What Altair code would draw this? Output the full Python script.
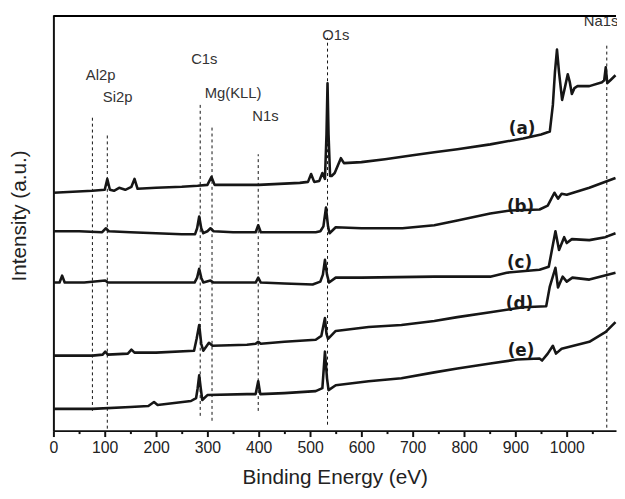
import altair as alt
import pandas as pd

# ---- spectra (binding energy in eV, intensity in a.u.) ----
energy_a = [0, 76, 100, 105, 110, 118, 128, 140, 152, 158, 164, 200, 250, 281, 300, 308, 314, 400, 480, 496,
            502, 508, 518, 524, 529, 532, 534, 536, 539, 542, 548, 560, 566, 600, 646, 700, 742, 787, 851, 915,
            950, 967, 973, 977, 981, 985, 991, 997, 1002, 1006, 1010, 1015, 1021, 1044, 1069, 1073, 1076, 1079,
            1085, 1095]
inten_a = [241, 243, 244, 255, 244, 243, 246, 244, 247, 255, 245, 246, 247, 248, 249, 257, 249, 249, 251, 252,
           260, 252, 253, 261, 255, 300, 352, 300, 258, 258, 261, 276, 271, 272, 275, 279, 282, 285, 290, 296,
           300, 303, 330, 363, 386, 363, 335, 349, 361, 353, 341, 347, 349, 349, 353, 355, 368, 352,
           355, 360]

energy_b = [0, 50, 95, 102, 108, 150, 200, 250, 276, 280, 284, 288, 292, 300, 306, 312, 350, 394, 399, 404,
            450, 511, 520, 526, 531, 535, 538, 550, 600, 680, 742, 787, 851, 890, 947, 963, 976, 983, 990, 1000,
            1044, 1095]
inten_b = [202, 202, 201, 205, 202, 201, 200, 199, 199, 205, 217, 205, 200, 202, 205, 202, 201, 201, 208, 201,
           201, 201, 202, 207, 226, 207, 200, 206, 205, 205, 208, 213, 220, 223, 224, 228, 241, 235, 240, 239,
           246, 256]

energy_c = [0, 12, 17, 22, 60, 101, 106, 200, 275, 280, 284, 288, 292, 306, 312, 358, 394, 399, 404, 450,
            505, 520, 525, 529, 533, 537, 550, 600, 742, 851, 883, 947, 965, 978, 985, 995, 1000, 1010, 1044,
            1075, 1095]
inten_c = [150, 150, 157, 150, 150, 152, 150, 150, 150, 155, 164, 155, 150, 152, 150, 150, 150, 155, 150, 149,
           148, 151, 158, 173, 158, 150, 155, 155, 156, 156, 160, 163, 166, 202, 183, 196, 190, 194, 193,
           196, 200]

energy_d = [0, 76, 96, 101, 106, 145, 152, 158, 200, 274, 279, 284, 288, 292, 303, 310, 377, 394, 399, 404,
            450, 511, 522, 529, 532, 535, 550, 614, 678, 742, 787, 851, 915, 960, 967, 978, 983, 992, 1000,
            1011, 1044, 1095]
inten_d = [76, 76, 77, 80, 77, 78, 82, 79, 79, 81, 93, 107, 88, 81, 89, 86, 87, 88, 90, 88,
           90, 92, 96, 114, 98, 93, 101, 105, 107, 111, 115, 120, 125, 126, 146, 165, 145, 156, 151,
           155, 153, 160]

energy_e = [0, 76, 150, 185, 196, 203, 268, 278, 281, 284, 287, 290, 300, 377, 394, 399, 403, 450, 511, 524,
            529, 533, 536, 550, 614, 678, 742, 787, 851, 903, 947, 952, 963, 973, 979, 990, 1044, 1076, 1095]
inten_e = [22, 22, 24, 25, 29, 26, 30, 33, 43, 56, 43, 31, 36, 37, 37, 50, 37, 38, 40, 43,
           80, 53, 41, 46, 50, 53, 59, 63, 68, 72, 73, 71, 78, 86, 78, 83, 90, 100, 110]

# ---- element markers ----
peak_names = ["Al2p", "Si2p", "C1s", "Mg(KLL)", "N1s", "O1s", "Na1s"]
peak_energy = [76, 105, 286, 309, 399, 534, 1078]
peak_line_bottom = [20, 2, 15, 10, 20, 6, 3]
peak_line_top = [318, 302, 330, 309, 280, 398, 390]
label_energy = [92, 125, 294, 350, 413, 550, 1067]
label_level = [360, 338, 376, 342, 319, 401, 415]

# ---- curve tags ----
tag_text = ["(a)", "(b)", "(c)", "(d)", "(e)"]
tag_energy = [913, 910, 908, 908, 911]
tag_level = [306, 226, 170, 128, 81]

# ---- axis ranges and frame ----
energy_range = [0, 1096]
intensity_range = [0, 421]
frame_level = [420]

rows = []
for name, xs, ys in [("a", energy_a, inten_a), ("b", energy_b, inten_b), ("c", energy_c, inten_c),
                     ("d", energy_d, inten_d), ("e", energy_e, inten_e)]:
    for x, y in zip(xs, ys):
        rows.append({"curve": name, "energy": x, "intensity": y})
spectra = pd.DataFrame(rows)

marks_df = pd.DataFrame({"name": peak_names, "energy": peak_energy,
                         "intensity": peak_line_bottom, "top": peak_line_top})
labels_df = pd.DataFrame({"name": peak_names, "energy": label_energy, "intensity": label_level})
tags_df = pd.DataFrame({"tag": tag_text, "energy": tag_energy, "intensity": tag_level})
frame_df = pd.DataFrame({"energy": [energy_range[0]], "energy_end": [energy_range[1]],
                         "intensity": frame_level})

FONT = "Liberation Sans"
x_scale = alt.Scale(domain=energy_range, nice=False, zero=False)
y_scale = alt.Scale(domain=intensity_range, nice=False, zero=False)

x_axis = alt.Axis(
    values=list(range(0, 1096, 50)),
    format="d",
    labelExpr="datum.value % 100 === 0 ? datum.label : ''",
    tickSize={"condition": {"test": "datum.value % 100 === 0", "value": 6}, "value": 3},
    tickWidth=2, tickColor="#111", domainWidth=2, domainColor="#111",
    labelFontSize=16, labelFont=FONT, labelColor="#222", labelPadding=3,
    labelFlush=False, labelOverlap=False, grid=False,
    title="Binding Energy (eV)", titleFont=FONT, titleFontSize=21, titleFontWeight="normal",
    titleColor="#222", titleX=285, titleY=48, titleBaseline="middle", titleAlign="center",
)
y_axis = alt.Axis(
    ticks=False, labels=False, grid=False, domainWidth=2, domainColor="#111",
    title="Intensity (a.u.)", titleFont=FONT, titleFontSize=21, titleFontWeight="normal",
    titleColor="#222", titleX=-34, titleY=203, titleAngle=270, titleBaseline="middle",
    titleAlign="center",
)

X = alt.X("energy:Q", scale=x_scale, axis=x_axis)
Y = alt.Y("intensity:Q", scale=y_scale, axis=y_axis)

frame_top = alt.Chart(frame_df).mark_rule(color="#000000", strokeWidth=2, opacity=1).encode(
    x=X, x2="energy_end:Q", y=Y)

rules = alt.Chart(marks_df).mark_rule(strokeDash=[3, 3], strokeWidth=1, color="#111").encode(
    x=X, y=Y, y2="top:Q")

lines = alt.Chart(spectra).mark_line(color="#161616", strokeWidth=2.6, strokeJoin="round").encode(
    x=X, y=Y, detail="curve:N")

labels = alt.Chart(labels_df).mark_text(font=FONT, fontSize=15, color="#333",
                                        align="center", baseline="middle").encode(
    x=X, y=Y, text="name:N")

tags = alt.Chart(tags_df).mark_text(font="DejaVu Sans", fontSize=17, fontWeight="bold", color="#1a1a1a",
                                    align="center", baseline="middle").encode(
    x=X, y=Y, text="tag:N")

chart = alt.layer(rules, lines, labels, tags, frame_top).properties(
    width=570, height=421,
    autosize=alt.AutoSizeParams(type="none"),
    padding={"left": 46, "top": 4, "right": 1, "bottom": 58},
).configure_view(stroke="transparent")

chart.save("out.html", embed_options={"renderer": "svg", "actions": False})
